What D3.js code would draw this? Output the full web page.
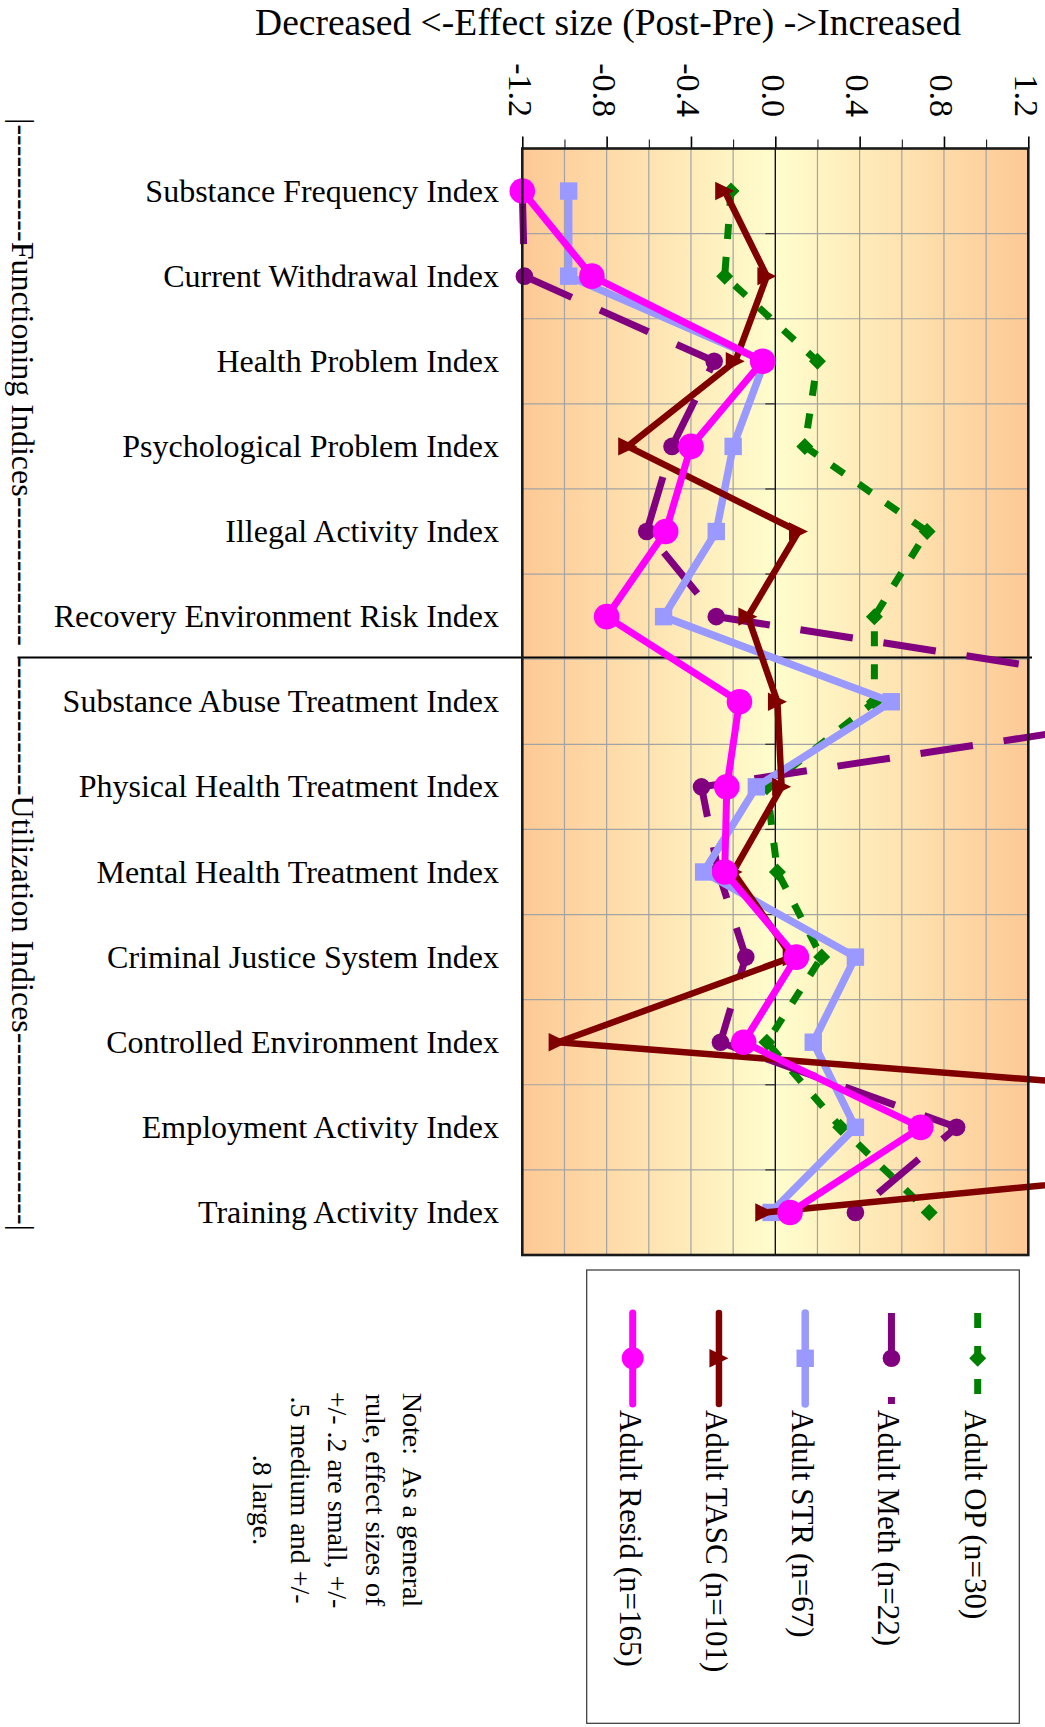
<!DOCTYPE html>
<html>
<head>
  <meta charset="utf-8">
  <script src="https://cdn.jsdelivr.net/npm/d3@7"></script>
  <style>
    body { margin: 0; background: #fff; }
    svg text { font-family: "Liberation Serif", "Times New Roman", serif; fill: #000; white-space: pre; }
  </style>
</head>
<body>
<script>
// categories, top to bottom
var categories = [
  "Substance Frequency Index",
  "Current Withdrawal Index",
  "Health Problem Index",
  "Psychological Problem Index",
  "Illegal Activity Index",
  "Recovery Environment Risk Index",
  "Substance Abuse Treatment Index",
  "Physical Health Treatment Index",
  "Mental Health Treatment Index",
  "Criminal Justice System Index",
  "Controlled Environment Index",
  "Employment Activity Index",
  "Training Activity Index"
];

// effect sizes
var adultOP    = [-0.21, -0.24, 0.20, 0.14, 0.72, 0.47, 0.47, -0.04, 0.01, 0.22, -0.04, 0.31, 0.73];
var adultMeth  = [-1.20, -1.19, -0.29, -0.49, -0.61, -0.28, 2.30, -0.35, -0.27, -0.14, -0.26, 0.86, 0.38];
var adultSTR   = [-0.98, -0.98, -0.05, -0.20, -0.28, -0.53, 0.55, -0.09, -0.34, 0.38, 0.18, 0.38, -0.02];
var adultTASC  = [-0.24, -0.04, -0.19, -0.70, 0.11, -0.13, 0.01, 0.03, -0.20, 0.08, -1.03, 4.10, -0.05];
var adultResid = [-1.20, -0.87, -0.06, -0.40, -0.52, -0.80, -0.17, -0.23, -0.24, 0.10, -0.15, 0.69, 0.07];

var seriesNames = ["Adult OP (n=30)", "Adult Meth (n=22)", "Adult STR (n=67)", "Adult TASC (n=101)", "Adult Resid (n=165)"];

var majorTicks = [-1.2, -0.8, -0.4, 0.0, 0.4, 0.8, 1.2];
var minorTicks = [-1.0, -0.6, -0.2, 0.2, 0.6, 1.0];

var titleText = "Decreased <-Effect size (Post-Pre) ->Increased";
var groupTexts = [
  "|-----------Functioning Indices--------------",
  "-------------Utilization Indices------------------|"
];
var noteLines = ["Note:  As a general", "rule, effect sizes of", "+/- .2 are small, +/-", ".5 medium and +/-", ".8 large."];

var width = 1045, height = 1727;

var svg = d3.select("body").append("svg")
  .attr("width", width)
  .attr("height", height);

var x = d3.scaleLinear().domain([-1.2, 1.2]).range([522.3, 1028.3]);
var y = d3.scaleBand().domain(categories).range([148.5, 1255]);
var yc = function (c) { return y(c) + y.bandwidth() / 2; };

var plotTop = y.range()[0], plotBottom = y.range()[1];
var plotLeft = x.range()[0], plotRight = x.range()[1];

// background gradient, orange at the edges, pale yellow at zero
var defs = svg.append("defs");
var grad = defs.append("linearGradient").attr("id", "bg").attr("x1", 0).attr("x2", 1).attr("y1", 0).attr("y2", 0);
grad.append("stop").attr("offset", "0%").attr("stop-color", "#FDC995");
grad.append("stop").attr("offset", "50%").attr("stop-color", "#FFFDCD");
grad.append("stop").attr("offset", "100%").attr("stop-color", "#FDC995");

svg.append("rect")
  .attr("x", plotLeft).attr("y", plotTop)
  .attr("width", plotRight - plotLeft).attr("height", plotBottom - plotTop)
  .attr("fill", "url(#bg)");

// grid
svg.selectAll(".vgrid").data(minorTicks.concat([-0.8, -0.4, 0.4, 0.8]))
  .enter().append("line")
  .attr("x1", function (d) { return x(d); }).attr("x2", function (d) { return x(d); })
  .attr("y1", plotTop).attr("y2", plotBottom)
  .attr("stroke", "#a3a3a3").attr("stroke-width", 1.2);

svg.selectAll(".hgrid").data(categories.slice(1))
  .enter().append("line")
  .attr("x1", plotLeft).attr("x2", plotRight)
  .attr("y1", function (d) { return y(d); }).attr("y2", function (d) { return y(d); })
  .attr("stroke", "#a3a3a3").attr("stroke-width", 1.2);

// zero line with its small ticks
svg.append("line")
  .attr("x1", x(0)).attr("x2", x(0)).attr("y1", plotTop).attr("y2", plotBottom)
  .attr("stroke", "#000").attr("stroke-width", 1.3);
svg.selectAll(".ztick").data(categories.slice(1))
  .enter().append("line")
  .attr("x1", x(0) - 10).attr("x2", x(0))
  .attr("y1", function (d) { return y(d); }).attr("y2", function (d) { return y(d); })
  .attr("stroke", "#333").attr("stroke-width", 1.3);

// top axis ticks
var axMajor = d3.axisTop(x).tickValues(majorTicks).tickSize(12).tickFormat("");
var axMinor = d3.axisTop(x).tickValues(minorTicks).tickSize(9).tickFormat("");
var gMaj = svg.append("g").attr("transform", "translate(0," + plotTop + ")").call(axMajor);
var gMin = svg.append("g").attr("transform", "translate(0," + plotTop + ")").call(axMinor);
gMaj.select(".domain").remove();
gMin.select(".domain").remove();
gMaj.selectAll("line").attr("stroke", "#000").attr("stroke-width", 1.6);
gMin.selectAll("line").attr("stroke", "#000").attr("stroke-width", 1);

// rotated tick labels
svg.selectAll(".xlab").data(majorTicks)
  .enter().append("text")
  .attr("transform", function (d) { return "translate(" + x(d) + ",117) rotate(90)"; })
  .attr("text-anchor", "end")
  .attr("dy", "0.4em")
  .style("font-size", "34px")
  .text(function (d) { return d.toFixed(1); });

// title
svg.append("text")
  .attr("x", 608).attr("y", 35)
  .attr("text-anchor", "middle")
  .style("font-size", "37.5px")
  .text(titleText);

// category labels
svg.selectAll(".cat").data(categories)
  .enter().append("text")
  .attr("x", 499)
  .attr("y", function (d) { return yc(d); })
  .attr("dy", "0.33em")
  .attr("text-anchor", "end")
  .style("font-size", "32px")
  .text(function (d) { return d; });

// group brackets on the left
svg.append("line")
  .attr("x1", 17.5).attr("x2", 1032)
  .attr("y1", 657.5).attr("y2", 657.5)
  .attr("stroke", "#000").attr("stroke-width", 2);

svg.selectAll(".grp").data(groupTexts)
  .enter().append("text")
  .attr("transform", function (d, i) { return "translate(11.5," + (i === 0 ? 118 : 657) + ") rotate(90)"; })
  .attr("text-anchor", "start")
  .style("font-size", "32px")
  .text(function (d) { return d; });

// series
var series = [
  { name: seriesNames[0], values: adultOP,    color: "#008000", width: 7,   dash: "15,18", marker: "diamond" },
  { name: seriesNames[1], values: adultMeth,  color: "#800080", width: 7,   dash: "53,31", marker: "circle", r: 8.8 },
  { name: seriesNames[2], values: adultSTR,   color: "#9999FF", width: 7.5, dash: null,    marker: "square" },
  { name: seriesNames[3], values: adultTASC,  color: "#800000", width: 6.5, dash: null,    marker: "triangle" },
  { name: seriesNames[4], values: adultResid, color: "#FF00FF", width: 7,   dash: null,    marker: "circle", r: 12.8 }
];

var line = d3.line()
  .x(function (d) { return x(d); })
  .y(function (d, i) { return yc(categories[i]); });

function addMarker(g, s, cx, cy, small) {
  if (s.marker === "circle") {
    g.append("circle").attr("cx", cx).attr("cy", cy)
      .attr("r", small && s.r > 10 ? 11 : s.r).attr("fill", s.color);
  } else if (s.marker === "square") {
    g.append("rect").attr("x", cx - 8.7).attr("y", cy - 8.7)
      .attr("width", 17.4).attr("height", 17.4).attr("fill", s.color);
  } else if (s.marker === "triangle") {
    g.append("path").attr("transform", "translate(" + cx + "," + cy + ")")
      .attr("d", "M-9.5,-9.2L9.5,0L-9.5,9.2Z").attr("fill", s.color);
  } else {
    g.append("path").attr("transform", "translate(" + cx + "," + cy + ")")
      .attr("d", "M0,-8.5L8.5,0L0,8.5L-8.5,0Z").attr("fill", s.color);
  }
}

series.forEach(function (s) {
  var g = svg.append("g");
  g.append("path")
    .datum(s.values)
    .attr("d", line)
    .attr("fill", "none")
    .attr("stroke", s.color)
    .attr("stroke-width", s.width)
    .attr("stroke-dasharray", s.dash)
    .attr("stroke-linecap", s.dash ? "butt" : "round")
    .attr("stroke-linejoin", "round");
  s.values.forEach(function (v, i) {
    addMarker(g, s, x(v), yc(categories[i]), false);
  });
});

// plot border
svg.append("rect")
  .attr("x", plotLeft).attr("y", plotTop)
  .attr("width", plotRight - plotLeft).attr("height", plotBottom - plotTop)
  .attr("fill", "none").attr("stroke", "#1a1a1a").attr("stroke-width", 2.6);

// legend
svg.append("rect")
  .attr("x", 586.7).attr("y", 1270)
  .attr("width", 432.6).attr("height", 453.3)
  .attr("fill", "#fff").attr("stroke", "#333").attr("stroke-width", 1.2);

series.forEach(function (s, i) {
  var lx = 977.7 - i * 86.25;
  var g = svg.append("g");
  g.append("line")
    .attr("x1", lx).attr("x2", lx).attr("y1", 1313).attr("y2", 1404)
    .attr("stroke", s.color)
    .attr("stroke-width", s.width)
    .attr("stroke-dasharray", s.dash)
    .attr("stroke-linecap", s.dash ? "butt" : "round");
  addMarker(g, s, lx, 1358.3, true);
  g.append("text")
    .attr("transform", "translate(" + (lx - 13) + ",1410) rotate(90)")
    .style("font-size", "31px")
    .text(s.name);
});

// note
var note = svg.append("g").attr("transform", "translate(403,1500) rotate(90)");
note.selectAll("text").data(noteLines)
  .enter().append("text")
  .attr("x", 0)
  .attr("y", function (d, i) { return i * 37.5; })
  .attr("text-anchor", "middle")
  .style("font-size", "28px")
  .text(function (d) { return d; });
</script>
</body>
</html>
